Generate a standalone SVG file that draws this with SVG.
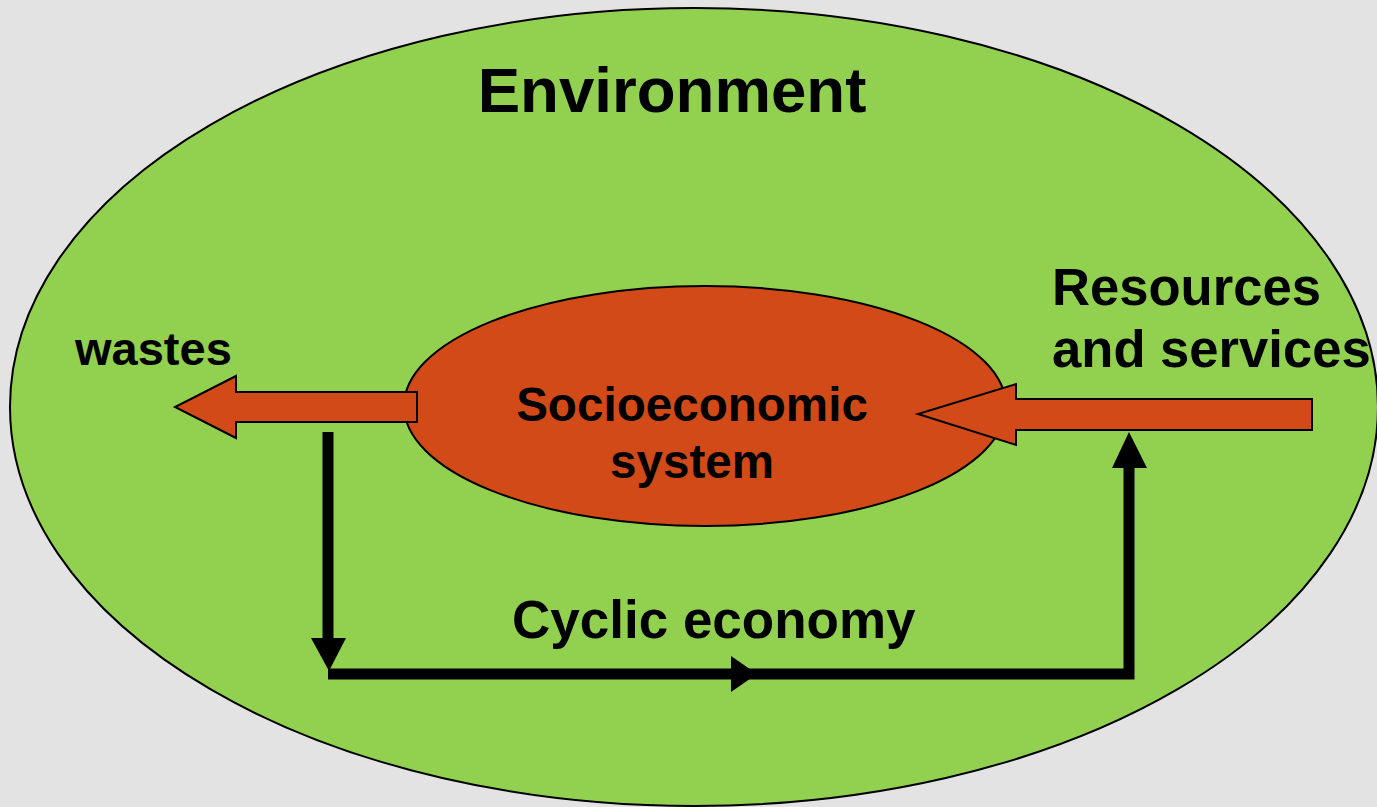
<svg xmlns="http://www.w3.org/2000/svg" width="1377" height="807" viewBox="0 0 1377 807">
<defs>
<style>
.lbl{font-family:"Liberation Sans",Arial,sans-serif;font-weight:bold;fill:#000}
.blk{stroke:#000;stroke-width:11;fill:none}
.head{fill:#000}
.fat{fill:#d24a17;stroke:#000;stroke-width:2}
</style>
</defs>
<rect width="1377" height="807" fill="#e3e3e3"/>
<g id="environment">
<ellipse cx="694" cy="407" rx="684" ry="399" fill="#92d050" stroke="#000" stroke-width="2"/>
<text class="lbl" x="672" y="112" font-size="63.6" text-anchor="middle">Environment</text>
</g>
<g id="socioeconomic">
<ellipse cx="705" cy="406" rx="301" ry="120" fill="#d24a17" stroke="#000" stroke-width="2"/>
<text class="lbl" font-size="47.6" text-anchor="middle"><tspan x="692" y="421">Socioeconomic</tspan><tspan x="692" y="478">system</tspan></text>
</g>
<g id="connectors">
<polygon class="fat" points="417,392 236,392 236,376 175,407 236,438 236,422 417,422"/>
<polygon class="fat" points="1312,399 1016,399 1016,384 918,414 1016,445 1016,430 1312,430"/>
<path class="blk" d="M328,432 V640"/>
<polygon class="head" points="311,638 346,638 329,671"/>
<path class="blk" d="M328,674 H1129 V466"/>
<polygon class="head" points="731,656 757,674 731,692"/>
<polygon class="head" points="1112,468 1147,468 1129,432"/>
</g>
<g id="wastes">
<text class="lbl" x="75" y="365" font-size="47">wastes</text>
</g>
<g id="resources">
<text class="lbl" font-size="52.6"><tspan x="1052" y="305">Resources</tspan><tspan x="1052" y="367">and services</tspan></text>
</g>
<g id="cyclic">
<text class="lbl" x="512" y="638" font-size="53">Cyclic economy</text>
</g>
</svg>
